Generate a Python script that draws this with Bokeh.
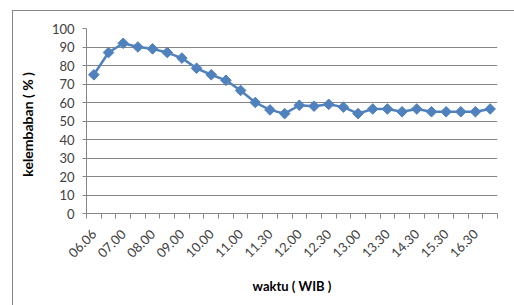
import math
from bokeh.plotting import figure
from bokeh.models import Range1d, FixedTicker, InlineStyleSheet
from bokeh.embed import file_html
from bokeh.resources import INLINE

# ---- data ----
times = ["06.06", "06.30", "07.00", "07.30", "08.00", "08.30", "09.00", "09.30",
         "10.00", "10.30", "11.00", "11.15", "11.30", "11.45", "12.00", "12.15",
         "12.30", "12.45", "13.00", "13.15", "13.30", "14.00", "14.30", "15.00",
         "15.30", "16.00", "16.30", "17.00"]
humidity = [75, 87, 92, 90, 89, 87, 84, 78.5, 75, 72, 66.5, 60, 56, 54,
            58.5, 58, 59, 57.5, 54, 56.5, 56.5, 55, 56.5, 55, 55, 55, 55, 56.5]
y_ticks = [0, 10, 20, 30, 40, 50, 60, 70, 80, 90, 100]
x_title = "waktu ( WIB )"
y_title = "kelembaban  ( %  )"

idx = list(range(1, len(times) + 1))
label_pos = idx[::2]
label_map = {i: times[i - 1] for i in label_pos}
boundaries = [i + 0.5 for i in range(0, len(times) + 1)]

GRID = "#868686"
BLUE = "#4F81BD"
FONT = "Lato"

p = figure(width=514, height=305, output_backend="svg", toolbar_location=None,
           x_range=Range1d(0.5, len(times) + 0.5), y_range=Range1d(0, 100),
           min_border_left=86, min_border_right=17, min_border_top=28, min_border_bottom=92)
p.outline_line_color = None
p.background_fill_color = "white"
p.border_fill_color = "white"

# outer chart-area border (left and top edges visible in the reference crop)
border_css = InlineStyleSheet(css="""
:host::after {
  content: "";
  position: absolute;
  left: 12px; top: 10px; right: 0; bottom: 0;
  border-left: 1px solid #868686;
  border-top: 1px solid #868686;
  pointer-events: none;
  z-index: 10;
}
""")
p.stylesheets = [border_css]

p.line(idx, humidity, line_color=BLUE, line_width=2.5)
p.scatter(idx, humidity, marker="square", angle=math.pi / 4, size=7.5,
          fill_color=BLUE, line_color=BLUE)

# x axis
p.xaxis.ticker = FixedTicker(ticks=label_pos, minor_ticks=boundaries)
p.xaxis.major_label_overrides = {k: v for k, v in label_map.items()}
p.xaxis.major_label_orientation = math.pi / 4
p.xaxis.major_tick_line_color = None
p.xaxis.major_tick_out = 0
p.xaxis.major_tick_in = 0
p.xaxis.minor_tick_line_color = GRID
p.xaxis.minor_tick_out = 5
p.xaxis.minor_tick_in = 0
p.xaxis.axis_line_color = GRID
p.xaxis.major_label_standoff = 13
p.xaxis.major_label_text_font = FONT
p.xaxis.major_label_text_font_size = "13px"
p.xaxis.major_label_text_color = "#404040"
p.xaxis.axis_label = x_title
p.xaxis.axis_label_text_font = FONT
p.xaxis.axis_label_text_font_size = "13px"
p.xaxis.axis_label_text_font_style = "bold"
p.xaxis.axis_label_text_color = "black"
p.xaxis.axis_label_standoff = 13

# y axis
p.yaxis.ticker = FixedTicker(ticks=y_ticks)
p.yaxis.minor_tick_line_color = None
p.yaxis.major_tick_line_color = GRID
p.yaxis.major_tick_out = 4
p.yaxis.major_tick_in = 0
p.yaxis.axis_line_color = GRID
p.yaxis.major_label_standoff = 8
p.yaxis.major_label_text_font = FONT
p.yaxis.major_label_text_font_size = "13px"
p.yaxis.major_label_text_color = "#404040"
p.yaxis.axis_label = y_title
p.yaxis.axis_label_text_font = FONT
p.yaxis.axis_label_text_font_size = "14px"
p.yaxis.axis_label_text_font_style = "bold"
p.yaxis.axis_label_text_color = "black"
p.yaxis.axis_label_standoff = 13

p.xgrid.grid_line_color = None
p.ygrid.grid_line_color = GRID
p.ygrid.grid_line_width = 1

open("out.html", "w").write(file_html(p, INLINE))
